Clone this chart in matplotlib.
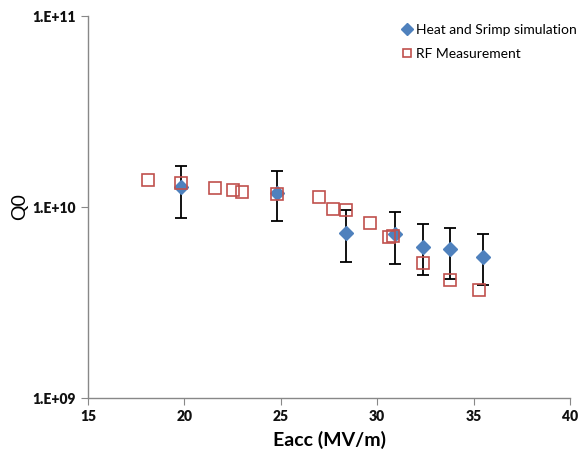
import matplotlib
matplotlib.use("Agg")
import matplotlib.pyplot as plt
from matplotlib.ticker import FixedLocator, NullLocator

plt.rcParams['font.family'] = ['Lato', 'DejaVu Sans']

# Simulation (diamonds) with error bars
sim_x = [19.8, 24.8, 28.4, 30.9, 32.4, 33.8, 35.5]
sim_q = [1.27e10, 1.19e10, 7.3e9, 7.2e9, 6.2e9, 6.0e9, 5.5e9]
sim_top = [1.64e10, 1.55e10, 9.6e9, 9.4e9, 8.15e9, 7.8e9, 7.2e9]
sim_bot = [8.8e9, 8.4e9, 5.15e9, 5.03e9, 4.39e9, 4.21e9, 3.89e9]

# RF measurement (squares)
rf_x = [18.1, 19.8, 21.6, 22.5, 23.0, 24.8, 27.0, 27.7, 28.4, 29.6, 30.6, 30.8, 32.4, 33.8, 35.3]
rf_q = [1.39e10, 1.34e10, 1.25e10, 1.23e10, 1.2e10, 1.17e10, 1.13e10, 9.8e9, 9.7e9,
        8.25e9, 6.94e9, 7.05e9, 5.09e9, 4.15e9, 3.67e9]

x_ticks = [15, 20, 25, 30, 35, 40]
y_ticks = [1e9, 1e10, 1e11]
y_tick_labels = ["1.E+09", "1.E+10", "1.E+11"]

fig = plt.figure(figsize=(5.79, 4.51), dpi=100)
ax = fig.add_axes([0.152, 0.1175, 0.8325, 0.847])

yerr = [[q - b for q, b in zip(sim_q, sim_bot)], [t - q for q, t in zip(sim_q, sim_top)]]
ax.errorbar(sim_x, sim_q, yerr=yerr, fmt='none', ecolor='black', elinewidth=1.3,
            capsize=4, capthick=1.3, zorder=2)
ax.plot(sim_x, sim_q, linestyle='none', marker='D', markersize=7.5, color='#4F81BD',
        markeredgecolor='#4F81BD', label='Heat and Srimp simulation', zorder=3)
ax.plot(rf_x, rf_q, linestyle='none', marker='s', markersize=8, markerfacecolor='none',
        markeredgecolor='#C0504D', markeredgewidth=1.2, label='RF Measurement', zorder=4)

ax.set_yscale('log')
ax.set_xlim(15, 40)
ax.set_ylim(1e9, 1e11)
ax.xaxis.set_major_locator(FixedLocator(x_ticks))
ax.set_xticklabels([str(t) for t in x_ticks])
ax.yaxis.set_major_locator(FixedLocator(y_ticks))
ax.yaxis.set_minor_locator(NullLocator())
ax.set_yticklabels(y_tick_labels)

for s in ['top', 'right']:
    ax.spines[s].set_visible(False)
for s in ['left', 'bottom']:
    ax.spines[s].set_color('#888888')
    ax.spines[s].set_linewidth(1.0)
ax.tick_params(axis='both', direction='out', length=5, color='#888888', labelsize=10)
for lab in ax.get_xticklabels() + ax.get_yticklabels():
    lab.set_fontweight('heavy')
    lab.set_color('#111111')

ax.set_xlabel('Eacc (MV/m)', fontsize=14, fontweight='bold', labelpad=6)
ax.set_ylabel('Q0', fontsize=14, labelpad=3)

leg = ax.legend(loc='upper left', bbox_to_anchor=(0.635, 1.0), frameon=False,
                fontsize=10, handlelength=0.6, handletextpad=0.4, labelspacing=0.85,
                borderaxespad=0.2)
for h in leg.legend_handles:
    h.set_markersize(6)

fig.savefig('out.png', dpi=100)
